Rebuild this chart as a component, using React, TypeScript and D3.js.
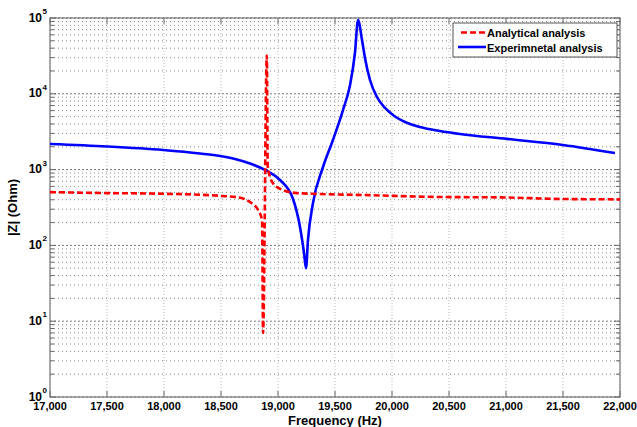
import React from "react";
import * as d3 from "d3";

const xTicks = [17000, 17500, 18000, 18500, 19000, 19500, 20000, 20500, 21000, 21500, 22000];
const yDecades = [0, 1, 2, 3, 4, 5];

const analyticalFreq = [17000, 17500, 18000, 18500, 18667, 18754, 18825, 18860, 18869, 18902, 18910, 18930, 18956, 19044, 19167, 19307, 19800, 20421, 20947, 21474, 22000];
const analyticalZ = [505, 490, 480, 450, 425, 373, 293, 216, 7, 32000, 1100, 800, 660, 537, 490, 480, 460, 435, 430, 410, 405];

const experimentalFreq = [17000, 17500, 17991, 18316, 18491, 18623, 18754, 18842, 18904, 19018, 19132, 19193, 19228, 19246, 19263, 19307, 19395, 19482, 19570, 19632, 19675, 19702, 19737, 19763, 19807, 19868, 19939, 20026, 20114, 20246, 20421, 20596, 21009, 21500, 21956];
const experimentalZ = [2177, 2018, 1814, 1631, 1511, 1380, 1203, 1066, 959, 729, 409, 175, 80, 50, 118, 363, 1082, 2460, 6110, 13060, 34540, 94150, 51250, 29660, 15210, 9070, 6500, 5020, 4250, 3650, 3230, 2950, 2540, 2115, 1656];

const legendLabels = ["Analytical analysis", "Experimnetal analysis"];

const W = 637, H = 427;
const L = 50, R = 620, T = 18, B = 397;

export default function App() {
  const x = d3.scaleLinear().domain([17000, 22000]).range([L, R]);
  const y = d3.scaleLog().domain([1, 1e5]).range([B, T]);
  const line = d3.line<[number, number]>().x(d => x(d[0])).y(d => y(d[1])).curve(d3.curveMonotoneX);
  const red = analyticalFreq.map((f, i) => [f, analyticalZ[i]] as [number, number]);
  const blue = experimentalFreq.map((f, i) => [f, experimentalZ[i]] as [number, number]);

  const minor: { v: number; major: boolean }[] = [];
  for (let d = 0; d < 5; d++) {
    for (let m = 1; m <= 9; m++) minor.push({ v: m * Math.pow(10, d), major: m === 1 });
  }
  minor.push({ v: 1e5, major: true });

  const font = "Arial, 'Liberation Sans', sans-serif";

  return (
    <svg width={W} height={H} style={{ position: "absolute", left: 0, top: 0, background: "#fff" }} fontFamily={font}>
      <rect x={0} y={0} width={W} height={H} fill="#fff" />
      {/* horizontal grid */}
      {minor.map((g, i) => (
        <line key={"hg" + i} x1={L} x2={R} y1={y(g.v)} y2={y(g.v)} stroke={g.major ? "#777" : "#888"} strokeWidth={1} strokeDasharray={g.major ? "2,2" : "1,3"} />
      ))}
      {/* vertical grid */}
      {xTicks.map((t, i) => (
        <line key={"vg" + i} x1={x(t)} x2={x(t)} y1={T} y2={B} stroke="#bbb" strokeWidth={1} strokeDasharray="1,2" />
      ))}
      {/* ticks */}
      {minor.map((g, i) => (
        <g key={"yt" + i}>
          <line x1={L} x2={L + (g.major ? 6 : 4)} y1={y(g.v)} y2={y(g.v)} stroke="#666" />
          <line x1={R} x2={R - (g.major ? 6 : 4)} y1={y(g.v)} y2={y(g.v)} stroke="#666" />
        </g>
      ))}
      {xTicks.map((t, i) => (
        <g key={"xt" + i}>
          <line x1={x(t)} x2={x(t)} y1={B} y2={B - 6} stroke="#666" />
          <line x1={x(t)} x2={x(t)} y1={T} y2={T + 6} stroke="#666" />
        </g>
      ))}
      {/* frame */}
      <rect x={L} y={T} width={R - L} height={B - T} fill="none" stroke="#777" strokeWidth={1.2} />
      {/* curves */}
      <path d={line(blue) || ""} fill="none" stroke="#0000ff" strokeWidth={2.6} strokeLinejoin="round" />
      <path d={line(red) || ""} fill="none" stroke="#ff0000" strokeWidth={2.6} strokeDasharray="6,3" />
      {/* x tick labels */}
      {xTicks.map((t, i) => (
        <text key={"xl" + i} x={x(t)} y={410} textAnchor="middle" fontSize={11} fontWeight="bold" fill="#000">
          {d3.format(",")(t)}
        </text>
      ))}
      {/* y tick labels */}
      {yDecades.map((d, i) => (
        <g key={"yl" + i}>
          <text x={42} y={y(Math.pow(10, d)) + 3.5} textAnchor="end" fontSize={12} fontWeight="bold" fill="#000">10</text>
          <text x={42.5} y={y(Math.pow(10, d)) - 4} fontSize={8} fontWeight="bold" fill="#000">{d}</text>
        </g>
      ))}
      {/* axis titles */}
      <text x={(L + R) / 2} y={425} textAnchor="middle" fontSize={13} fontWeight="bold" fill="#000">Frequency (Hz)</text>
      <text transform={`translate(17, ${(T + B) / 2}) rotate(-90)`} textAnchor="middle" fontSize={13} fontWeight="bold" fill="#000">|Z| (Ohm)</text>
      {/* legend */}
      <rect x={453} y={23} width={164} height={34} fill="#fff" stroke="#555" strokeWidth={1} />
      <line x1={461} x2={486} y1={32.5} y2={32.5} stroke="#ff0000" strokeWidth={2.6} strokeDasharray="6,3" />
      <line x1={458} x2={486} y1={47} y2={47} stroke="#0000ff" strokeWidth={2.6} />
      <text x={487} y={37} fontSize={11} fontWeight="bold" fill="#000">{legendLabels[0]}</text>
      <text x={487} y={52} fontSize={11} fontWeight="bold" fill="#000">{legendLabels[1]}</text>
    </svg>
  );
}
